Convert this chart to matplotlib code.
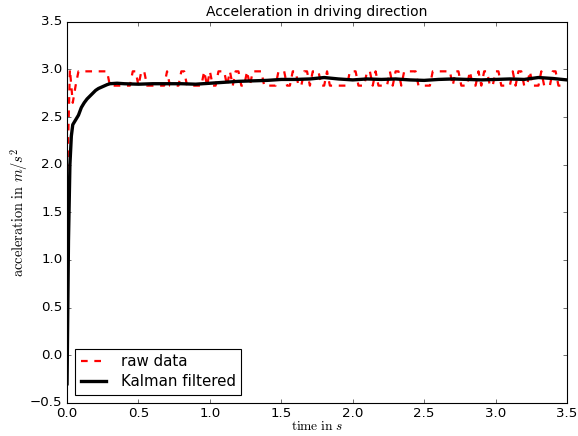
import numpy as np
import matplotlib
matplotlib.use("Agg")
import matplotlib.pyplot as plt

plt.style.use("classic")
plt.rcParams["mathtext.fontset"] = "cm"

# ---- data ----
dt = 0.02
H, L = 2.98, 2.83
raw_values = [
    1.80, 3.00, 2.65, 2.83, H, H, H, H, H, H,   # 0.00-0.18
    H, H, H, H, H, L, L, L, L, L,               # 0.20-0.38
    L, L, L, H, H, L, H, H, L, L,               # 0.40-0.58
    L, L, L, L, L, H, L, L, L, L,               # 0.60-0.78
    H, H, L, L, L, L, L, L, H, L,               # 0.80-0.98
    H, L, L, H, H, H, L, H, L, H,               # 1.00-1.18
    H, L, L, H, L, H, H, H, H, L,               # 1.20-1.38
    L, L, L, L, H, H, H, L, L, H,               # 1.40-1.58
    H, L, L, H, H, L, H, H, H, L,               # 1.60-1.78
    L, H, L, L, L, L, L, L, L, H,               # 1.80-1.98
    H, H, L, L, L, H, H, L, H, L,               # 2.00-2.18
    L, L, L, H, L, H, H, L, H, H,               # 2.20-2.38
    H, H, H, L, L, L, L, L, H, H,               # 2.40-2.58
    H, H, H, H, H, L, H, H, L, L,               # 2.60-2.78
    L, H, L, L, H, L, H, H, L, L,               # 2.80-2.98
    H, H, L, L, L, L, H, L, H, H,               # 3.00-3.18
    L, L, H, L, L, L, H, L, L, L,               # 3.20-3.38
    H, H, L, L, L, L,                           # 3.40-3.50
]
raw_time = np.arange(len(raw_values)) * dt

kalman_time = [0.0, 0.01, 0.02, 0.03, 0.04, 0.06, 0.08, 0.10, 0.12, 0.14,
               0.16, 0.18, 0.20, 0.22, 0.25, 0.28, 0.30, 0.35, 0.40, 0.50,
               0.60, 0.70, 0.80, 0.90, 1.00, 1.10, 1.20, 1.30, 1.40, 1.50,
               1.60, 1.70, 1.80, 1.90, 2.00, 2.10, 2.20, 2.30, 2.40, 2.50,
               2.60, 2.70, 2.80, 2.90, 3.00, 3.10, 3.20, 3.30, 3.40, 3.50]
kalman_values = [-0.30, 1.20, 2.00, 2.30, 2.42, 2.47, 2.52, 2.60, 2.65, 2.69,
                 2.72, 2.75, 2.78, 2.80, 2.82, 2.84, 2.85, 2.855, 2.85, 2.845,
                 2.85, 2.85, 2.85, 2.845, 2.855, 2.865, 2.875, 2.88, 2.885, 2.895,
                 2.895, 2.90, 2.915, 2.90, 2.89, 2.90, 2.895, 2.90, 2.89, 2.885,
                 2.895, 2.90, 2.895, 2.89, 2.895, 2.90, 2.895, 2.915, 2.905, 2.89]

# ---- plot ----
DPI = 80
fig = plt.figure(figsize=(578 / DPI, 436 / DPI), dpi=DPI, facecolor="white")
ax = fig.add_axes([0.116, 0.076, 0.865, 0.874])

ax.plot(raw_time, raw_values, "r--", lw=2, label="raw data")
ax.plot(kalman_time, kalman_values, "k-", lw=3, label="Kalman filtered")

ax.set_xlim(0, 3.5)
ax.set_ylim(-0.5, 3.5)
ax.set_title("Acceleration in driving direction", fontsize=12.5)
ax.set_xlabel(r"$\mathrm{time\ in}\ s$", fontsize=12, labelpad=0)
ax.set_ylabel(r"$\mathrm{acceleration\ in}\ m/s^2$", fontsize=13, labelpad=0)
ax.tick_params(labelsize=12)
leg = ax.legend(loc="lower left", fontsize=13.5, fancybox=False, numpoints=1,
                handlelength=1.7, handletextpad=1.0, borderpad=0.35,
                labelspacing=0.35, borderaxespad=0.55)

fig.savefig("out.png", dpi=DPI, facecolor="white")
